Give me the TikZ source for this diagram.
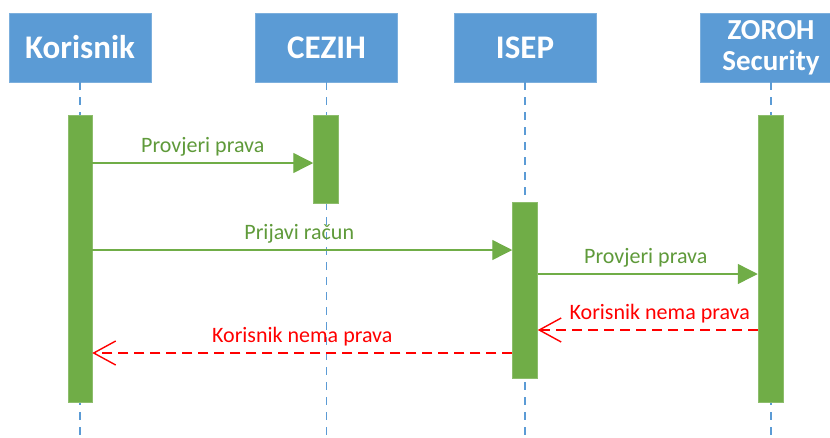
\documentclass[tikz,border=0pt]{standalone}
\usepackage{fontspec}
\setmainfont{Carlito}
\usetikzlibrary{arrows.meta}
\definecolor{boxblue}{HTML}{5B9BD5}
\definecolor{bargreen}{HTML}{70AD47}
\definecolor{txtgreen}{HTML}{5F9A3A}
\definecolor{msgred}{HTML}{FF0000}
\tikzset{
  actor/.style={draw=boxblue!80!white, fill=boxblue, line width=0.6pt, minimum width=142pt, minimum height=69pt, inner sep=0pt, text=white, font=\bfseries\fontsize{33}{36}\selectfont, align=center},
  actor2/.style={actor, font=\bfseries\fontsize{29}{31}\selectfont},
  life/.style={draw=boxblue, line width=1.3pt, dash pattern=on 8pt off 7pt},
  bar/.style={draw=bargreen!80!white, fill=bargreen, line width=0.5pt, minimum width=24pt, inner sep=0pt},
  call/.style={draw=bargreen, line width=1.4pt, -{Triangle[length=20pt,width=20pt]}},
  reply/.style={draw=msgred, line width=1.4pt, dash pattern=on 10pt off 6pt, -{Straight Barb[length=22pt,width=24pt,line width=1.4pt]}},
  glab/.style={text=txtgreen, font=\fontsize{22}{24}\selectfont, inner sep=0pt},
  rlab/.style={text=msgred, font=\fontsize{22}{24}\selectfont, inner sep=0pt}
}
\begin{document}
\begin{tikzpicture}[x=1pt,y=-1pt]
\useasboundingbox (0,0) rectangle (830,437);
\clip (0,0) rectangle (830,437);
% actors
\node[actor] (kor) at (80,47.5) {Korisnik};
\node[actor] (cez) at (326.5,47.5) {CEZIH};
\node[actor] (isep) at (525,47.5) {ISEP};
\node[actor2] (zor) at (771,47.5) {ZOROH\\Security};
% lifeline ends
\coordinate (kend) at (80,437);
\coordinate (cend) at (326.5,437);
\coordinate (iend) at (525,437);
\coordinate (zend) at (771,437);
\draw[life] (kor.south) -- (kend);
\draw[life] (cez.south) -- (cend);
\draw[life] (isep.south) -- (iend);
\draw[life] (zor.south) -- (zend);
% activation bars
\node[bar, minimum height=287pt] (kbar) at (80,258.5) {};
\node[bar, minimum height=88pt, minimum width=25pt] (cbar) at (326,159) {};
\node[bar, minimum height=176pt, minimum width=25pt] (ibar) at (525,290) {};
\node[bar, minimum height=287pt, minimum width=25pt] (zbar) at (770.5,258.5) {};
% message levels
\coordinate (m1) at (0,163);
\coordinate (m2) at (0,250);
\coordinate (m3) at (0,274);
\coordinate (m4) at (0,330);
\coordinate (m5) at (0,353);
% messages
\draw[call] (kbar.east |- m1) -- node[glab, midway, yshift=16pt] (l1) {Provjeri prava} (cbar.west |- m1);
\draw[call] (kbar.east |- m2) -- node[glab, midway, yshift=16pt, xshift=-3pt] (l2) {Prijavi račun} (ibar.west |- m2);
\draw[call] (ibar.east |- m3) -- node[glab, midway, yshift=16pt, xshift=-2pt] (l3) {Provjeri prava} (zbar.west |- m3);
\draw[reply] (zbar.west |- m4) -- node[rlab, midway, yshift=16pt, xshift=12pt] (l4) {Korisnik nema prava} (ibar.east |- m4);
\draw[reply] (ibar.west |- m5) -- node[rlab, midway, yshift=16pt] (l5) {Korisnik nema prava} (kbar.east |- m5);
\end{tikzpicture}
\end{document}
